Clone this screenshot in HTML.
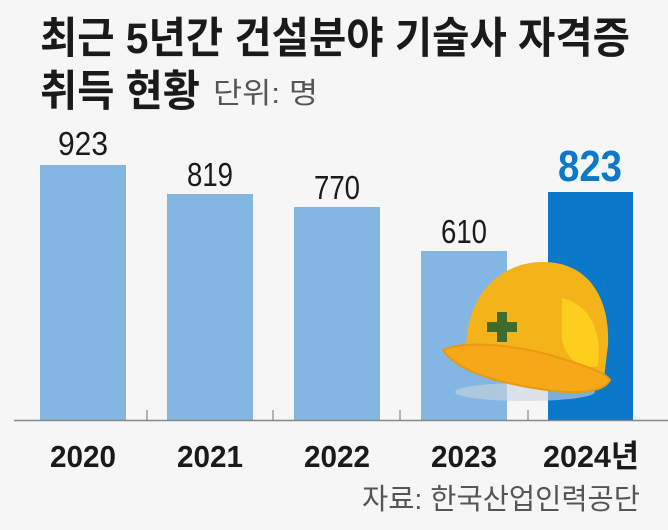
<!DOCTYPE html>
<html><head><meta charset="utf-8"><style>
html,body{margin:0;padding:0;background:#f6f6f6;}
svg{display:block}
text{font-family:"Liberation Sans","Noto Sans CJK KR",sans-serif;}
</style></head><body>
<svg width="668" height="530" viewBox="0 0 668 530" xmlns="http://www.w3.org/2000/svg">
<rect width="668" height="530" fill="#f6f6f6"/>
<text x="40" y="53" font-size="43" font-weight="bold" fill="#1a1a1a" textLength="590" lengthAdjust="spacingAndGlyphs">최근 5년간 건설분야 기술사 자격증</text>
<text x="40" y="106" font-size="43" font-weight="bold" fill="#1a1a1a" textLength="160" lengthAdjust="spacingAndGlyphs">취득 현황</text>
<text x="213" y="103" font-size="29" fill="#555" textLength="105" lengthAdjust="spacingAndGlyphs">단위: 명</text>

<rect x="40" y="165" width="86" height="255" fill="#83b6e2"/>
<rect x="167" y="194" width="86" height="226" fill="#83b6e2"/>
<rect x="294" y="207" width="86" height="213" fill="#83b6e2"/>
<rect x="421" y="251" width="86" height="169" fill="#83b6e2"/>
<rect x="548" y="192" width="85" height="228" fill="#0b78c9"/>
<line x1="14" y1="420.5" x2="668" y2="420.5" stroke="#888" stroke-width="1.5"/>
<g stroke="#888" stroke-width="1.2">
<line x1="147" y1="410" x2="147" y2="420"/><line x1="273" y1="410" x2="273" y2="420"/>
<line x1="400" y1="410" x2="400" y2="420"/><line x1="528" y1="410" x2="528" y2="420"/>
</g>

<g font-size="33" fill="#1a1a1a" text-anchor="middle">
<text x="83" y="155" textLength="50" lengthAdjust="spacingAndGlyphs">923</text>
<text x="210" y="186" textLength="46" lengthAdjust="spacingAndGlyphs">819</text>
<text x="337" y="199" textLength="46" lengthAdjust="spacingAndGlyphs">770</text>
<text x="464" y="243" textLength="46" lengthAdjust="spacingAndGlyphs">610</text>
</g>
<text x="590" y="181" font-size="44" font-weight="bold" fill="#0b78c9" text-anchor="middle" textLength="64" lengthAdjust="spacingAndGlyphs">823</text>

<!-- helmet -->
<g>
<ellipse cx="525" cy="392" rx="70" ry="9" fill="#c9d3de" opacity="0.6"/>
<path d="M466 350 C466 295 500 262 543 262 C590 262 610 300 608 345 L604 378 C570 384 520 384 490 374 Z" fill="#f5b31a"/>
<path d="M562 298 C592 305 602 335 598 366 C582 370 566 360 562 340 Z" fill="#ffd21e" opacity="0.85"/>
<path d="M443 350 C470 338 530 348 560 358 C585 366 605 372 610 380 C603 394 570 394 540 389 C500 383 458 372 443 350 Z" fill="#f7a818" stroke="#e69a10" stroke-width="2"/>
<path d="M487 322 h10 v-10 h10 v10 h10 v10 h-10 v10 h-10 v-10 h-10 Z" fill="#3f6b2c"/>
</g>

<g font-size="31" font-weight="bold" fill="#1a1a1a" text-anchor="middle">
<text x="83" y="467" textLength="66" lengthAdjust="spacingAndGlyphs">2020</text>
<text x="210" y="467" textLength="66" lengthAdjust="spacingAndGlyphs">2021</text>
<text x="337" y="467" textLength="66" lengthAdjust="spacingAndGlyphs">2022</text>
<text x="464" y="467" textLength="66" lengthAdjust="spacingAndGlyphs">2023</text>
<text x="591" y="467" textLength="96" lengthAdjust="spacingAndGlyphs">2024년</text>
</g>
<text x="640" y="509" font-size="29" fill="#555" text-anchor="end" textLength="278" lengthAdjust="spacingAndGlyphs">자료: 한국산업인력공단</text>
</svg>
</body></html>
